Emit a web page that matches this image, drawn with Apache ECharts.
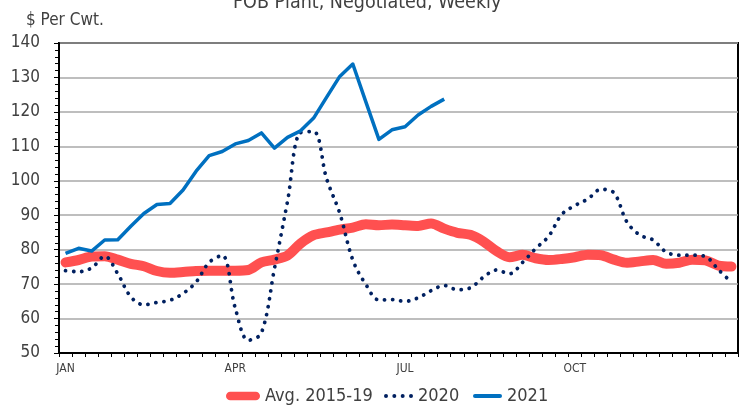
<!DOCTYPE html>
<html>
<head>
<meta charset="utf-8">
<script src="https://cdn.jsdelivr.net/npm/echarts@6/dist/echarts.min.js"></script>
<style>
html,body{margin:0;padding:0;background:#fff;}
#chart{width:743px;height:407px;}
</style>
</head>
<body>
<div id="chart"></div>
<script>
// Weekly categories (week of year)
var weeks = [1,2,3,4,5,6,7,8,9,10,11,12,13,14,15,16,17,18,19,20,21,22,23,24,25,26,
             27,28,29,30,31,32,33,34,35,36,37,38,39,40,41,42,43,44,45,46,47,48,49,50,51,52];
// Month tick labels and the week index each sits on
var monthLabels = ['JAN','APR','JUL','OCT'];
var monthWeekIndex = [0, 13, 26, 39];

var avg2015_19 = [76.3,77.0,78.0,78.1,77.1,75.9,75.2,73.8,73.3,73.5,73.8,73.9,73.9,73.9,
                  74.1,76.3,77.1,78.3,81.8,84.2,85.0,85.8,86.4,87.4,87.1,87.3,87.1,86.9,
                  87.6,86.1,84.9,84.3,82.4,79.6,77.8,78.5,77.5,77.0,77.3,77.8,78.5,78.4,
                  77.1,76.2,76.6,77.0,75.9,76.2,77.1,76.9,75.4,75.1];
var y2020 = [73.9,73.6,74.7,78.1,73.0,66.3,64.0,64.7,65.3,67.3,70.6,76.3,78.3,63.0,
             53.7,55.8,74.5,94.0,114.0,114.3,100.5,90.6,77.0,69.9,65.4,65.5,65.0,66.0,
             68.1,69.6,68.4,68.9,72.0,74.1,73.0,76.3,80.3,83.9,90.2,92.8,94.7,97.5,
             96.5,88.0,84.2,82.8,79.3,78.4,78.4,78.0,74.2,70.5];
var y2021 = [78.9,80.4,79.6,82.8,82.9,86.8,90.5,93.1,93.4,97.3,102.8,107.3,108.5,110.7,
             111.7,113.9,109.5,112.6,114.5,118.2,124.3,130.3,133.9,122.9,112.0,114.8,115.7,119.1,
             121.6,123.7];

var FONT = "'Liberation Sans Narrow','DejaVu Sans Condensed',sans-serif";
var TXT = '#404040';

var iconRed = 'path://M4.25,0 H29.75 A4.25,4.25 0 0 1 29.75,8.5 H4.25 A4.25,4.25 0 0 1 4.25,0 Z';
var iconDots = 'path://M0,2 A2,2 0 1 0 4,2 A2,2 0 1 0 0,2 Z M8.33,2 A2,2 0 1 0 12.33,2 A2,2 0 1 0 8.33,2 Z M16.67,2 A2,2 0 1 0 20.67,2 A2,2 0 1 0 16.67,2 Z M25,2 A2,2 0 1 0 29,2 A2,2 0 1 0 25,2 Z';
var iconBlue = 'path://M2,0 H27 A2,2 0 0 1 27,4 H2 A2,2 0 0 1 2,0 Z';

function leg(name, icon, left, w) {
  return {
    data: [{name: name, icon: icon}], left: left, top: 387, padding: 0,
    itemWidth: w, itemHeight: 10, itemStyle: {borderWidth: 0},
    textStyle: {fontFamily: FONT, fontSize: 18, color: TXT}
  };
}

var chart = echarts.init(document.getElementById('chart'));
chart.setOption({
  animation: false,
  title: [
    {text: 'FOB Plant, Negotiated, Weekly', left: 233, top: -7, padding: 0,
     textStyle: {fontFamily: FONT, fontSize: 19.5, fontWeight: 'normal', color: TXT}},
    {text: '$ Per Cwt.', left: 26, top: 12, padding: 0,
     textStyle: {fontFamily: FONT, fontSize: 17, fontWeight: 'normal', color: TXT}}
  ],
  grid: {left: 59, right: 5, top: 43, bottom: 54, show: true, borderColor: '#000', borderWidth: 2, backgroundColor: 'transparent'},
  legend: [
    leg('Avg. 2015-19', iconRed, 226, 34),
    leg('2020', iconDots, 384, 29),
    leg('2021', iconBlue, 473, 29)
  ],
  xAxis: {
    type: 'category', data: weeks, boundaryGap: true,
    axisLine: {lineStyle: {color: '#000', width: 2}},
    axisTick: {show: true, interval: 0, length: 4, lineStyle: {color: '#000', width: 1}},
    axisLabel: {
      interval: function (i) { return monthWeekIndex.indexOf(i) >= 0; },
      formatter: function (v, i) { var k = monthWeekIndex.indexOf(i); return k >= 0 ? monthLabels[k] : ''; },
      fontFamily: FONT, fontSize: 12, color: TXT, margin: 10
    },
    splitLine: {show: false}
  },
  yAxis: {
    type: 'value', min: 50, max: 140, interval: 10,
    axisLine: {show: true, lineStyle: {color: '#000', width: 2}},
    axisTick: {show: true, length: 5, lineStyle: {color: '#000', width: 1}},
    minorTick: {show: true, splitNumber: 5, length: 4, lineStyle: {color: '#000', width: 1}},
    axisLabel: {fontFamily: FONT, fontSize: 17, color: TXT, margin: 19},
    splitLine: {show: true, lineStyle: {color: '#A8A8A8', width: 1.5}}
  },
  series: [
    {name: 'Avg. 2015-19', type: 'line', data: avg2015_19, smooth: 0.3, symbol: 'none',
     color: '#FF5050', lineStyle: {color: '#FF5050', width: 10, cap: 'round', join: 'round'}},
    {name: '2020', type: 'line', data: y2020, smooth: 0.35, symbol: 'none',
     color: '#002060', lineStyle: {color: '#002060', width: 3.8, type: [0.1, 8], cap: 'round'}},
    {name: '2021', type: 'line', data: y2021, smooth: false, symbol: 'none',
     color: '#0070C0', lineStyle: {color: '#0070C0', width: 3.5, join: 'round'}}
  ]
});
</script>
</body>
</html>
